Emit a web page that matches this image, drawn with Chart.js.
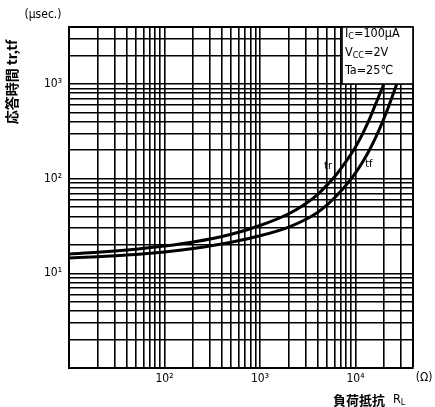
<!DOCTYPE html>
<html>
<head>
<meta charset="utf-8">
<script src="https://cdn.jsdelivr.net/npm/chart.js@4.4.1/dist/chart.umd.min.js"></script>
<style>
  html, body { margin: 0; padding: 0; background: #fff; }
  canvas { display: block; }
</style>
</head>
<body>
<canvas id="respChart" width="435" height="407"></canvas>

<script>
  // axis ranges (log scales)
  var xMin = 10, xMax = 40000;
  var yMin = 1, yMax = 4000;

  // tick labels, only on the decades
  var xDecades = [100, 1000, 10000];
  var xDecadeLabels = ['10²', '10³', '10⁴'];
  var yDecades = [10, 100, 1000];
  var yDecadeLabels = ['10¹', '10²', '10³'];

  // tr curve : load resistance (ohm) / time (usec)
  var rlTr = [10, 20, 50, 100, 200, 500, 1000, 2000, 3000, 4000, 5000, 6000, 7000, 8000, 10000, 12000, 14000, 16000, 18000, 19800];
  var trUs = [16, 16.7, 18, 19.4, 21.4, 25.9, 32, 42.6, 54.4, 68, 85, 104, 127, 153, 216, 305, 425, 590, 790, 1000];

  // tf curve
  var rlTf = [10, 20, 50, 100, 200, 500, 1000, 2000, 3000, 4000, 5000, 6000, 7000, 8000, 10000, 12000, 14000, 16000, 18000, 20000, 22000, 24000, 26000, 27000];
  var tfUs = [14.5, 15, 15.8, 16.8, 18.3, 21.3, 24.9, 30.8, 37, 44, 52.6, 62.4, 73.5, 86, 115, 153, 201, 263, 342, 441, 563, 714, 895, 1000];

  var curveNames = ['tr', 'tf'];
  var conditions = [['I', 'C', '=100μA'], ['V', 'CC', '=2V'], ['Ta', '', '=25℃']];

  var latinFont = '"Liberation Sans Narrow", "DejaVu Sans Condensed", "Liberation Sans", sans-serif';
  var cjkFont = '"Noto Sans CJK JP", sans-serif';

  // every 1..9 x 10^n line of the log paper
  function gridValues(min, max) {
    var out = [];
    for (var d = min; d < max; d *= 10) {
      for (var k = 1; k < 10; k++) {
        if (k * d <= max) out.push(k * d);
      }
    }
    return out;
  }

  function toPoints(xs, ys) {
    return xs.map(function (x, i) { return { x: x, y: ys[i] }; });
  }

  // text with a subscript part
  function drawSub(ctx, x, y, main, sub, rest, size) {
    ctx.font = size + 'px ' + latinFont;
    ctx.fillText(main, x, y);
    x += ctx.measureText(main).width;
    if (sub) {
      ctx.font = Math.round(size * 0.72) + 'px ' + latinFont;
      ctx.fillText(sub, x, y + 3);
      x += ctx.measureText(sub).width;
    }
    ctx.font = size + 'px ' + latinFont;
    ctx.fillText(rest, x, y);
  }

  var extraText = {
    id: 'extraText',
    afterDatasetsDraw: function (chart) {
      var ctx = chart.ctx;
      var area = chart.chartArea;
      var xs = chart.scales.x, ys = chart.scales.y;
      ctx.save();

      // condition box in the top right corner
      var boxLeft = area.right - 71;
      var boxBottom = ys.getPixelForValue(1000);
      ctx.fillStyle = '#fff';
      ctx.fillRect(boxLeft, area.top, area.right - boxLeft, boxBottom - area.top);
      ctx.strokeStyle = '#000';
      ctx.lineWidth = 1.6;
      ctx.strokeRect(boxLeft, area.top, area.right - boxLeft, boxBottom - area.top);

      ctx.fillStyle = '#000';
      ctx.textBaseline = 'middle';
      ctx.textAlign = 'left';
      conditions.forEach(function (c, i) {
        drawSub(ctx, boxLeft + 3, area.top + 7 + i * 18.5, c[0], c[1], c[2], 12.5);
      });

      // curve names
      ctx.font = '11px ' + latinFont;
      ctx.textAlign = 'center';
      ctx.fillText(curveNames[0], xs.getPixelForValue(5150), ys.getPixelForValue(136));
      ctx.fillText(curveNames[1], xs.getPixelForValue(13800), ys.getPixelForValue(143));

      // units
      ctx.font = '12px ' + latinFont;
      ctx.fillText('(μsec.)', 43, 15);
      ctx.fillText('(Ω)', 424, 378);

      // x title
      ctx.textAlign = 'left';
      ctx.font = 'bold 13px ' + cjkFont;
      ctx.fillText('負荷抵抗', 333, 400);
      drawSub(ctx, 393, 400, 'R', 'L', '', 12.5);

      // y title, rotated
      ctx.translate(12, 82);
      ctx.rotate(-Math.PI / 2);
      ctx.textAlign = 'center';
      ctx.font = 'bold 14px ' + cjkFont;
      ctx.fillText('応答時間 tr,tf', 0, 0);

      ctx.restore();
    }
  };

  var ctx = document.getElementById('respChart');

  var respChart = new Chart(ctx, {
    type: 'line',
    data: {
      datasets: [
        {
          label: curveNames[0],
          data: toPoints(rlTr, trUs),
          borderColor: '#000',
          borderWidth: 3,
          pointRadius: 0,
          fill: false,
          cubicInterpolationMode: 'monotone'
        },
        {
          label: curveNames[1],
          data: toPoints(rlTf, tfUs),
          borderColor: '#000',
          borderWidth: 3,
          pointRadius: 0,
          fill: false,
          cubicInterpolationMode: 'monotone'
        }
      ]
    },
    options: {
      responsive: false,
      animation: false,
      devicePixelRatio: 1,
      layout: { padding: { top: 27, right: 22, bottom: 0, left: 0 } },
      plugins: {
        legend: { display: false },
        tooltip: { enabled: false }
      },
      scales: {
        x: {
          type: 'logarithmic',
          min: xMin,
          max: xMax,
          afterBuildTicks: function (axis) {
            axis.ticks = gridValues(xMin, xMax).map(function (v) { return { value: v }; });
          },
          afterFit: function (axis) { axis.height = 39; },
          grid: {
            color: '#000',
            lineWidth: function (c) { return c.tick && c.tick.value === xMax ? 2 : 1.6; },
            drawTicks: false
          },
          border: { color: '#000', width: 2 },
          ticks: {
            autoSkip: false,
            maxRotation: 0,
            padding: 4,
            color: '#000',
            font: { family: latinFont, size: 12 },
            callback: function (value) {
              var i = xDecades.indexOf(value);
              return i >= 0 ? xDecadeLabels[i] : '';
            }
          }
        },
        y: {
          type: 'logarithmic',
          min: yMin,
          max: yMax,
          afterBuildTicks: function (axis) {
            axis.ticks = gridValues(yMin, yMax).map(function (v) { return { value: v }; });
          },
          afterFit: function (axis) { axis.width = 69; },
          grid: {
            color: '#000',
            lineWidth: function (c) { return c.tick && c.tick.value === yMax ? 2 : 1.6; },
            drawTicks: false
          },
          border: { color: '#000', width: 2 },
          ticks: {
            autoSkip: false,
            padding: 7,
            color: '#000',
            font: { family: latinFont, size: 12 },
            callback: function (value) {
              var i = yDecades.indexOf(value);
              return i >= 0 ? yDecadeLabels[i] : '';
            }
          }
        }
      }
    },
    plugins: [extraText]
  });
</script>
</body>
</html>
